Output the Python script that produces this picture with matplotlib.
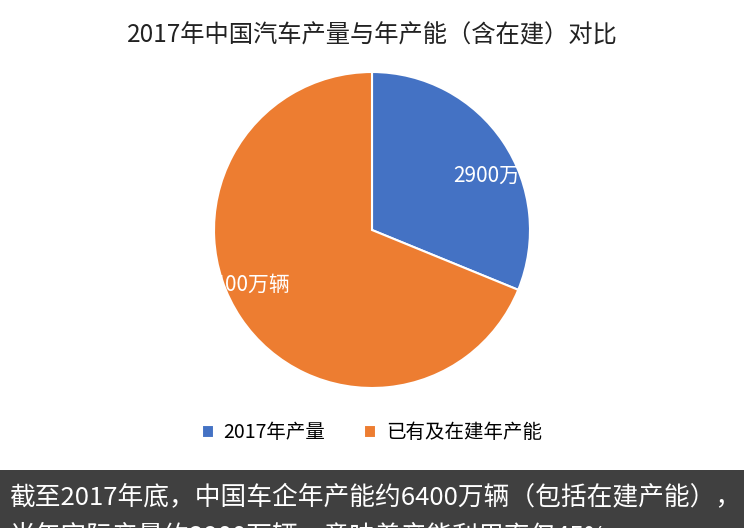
import matplotlib
matplotlib.use("Agg")
import matplotlib.pyplot as plt
from matplotlib.patches import Rectangle

plt.rcParams['font.family'] = ['Noto Sans CJK SC', 'DejaVu Sans']

labels = ["2017年产量", "已有及在建年产能"]
values = [2900, 6400]
value_labels = ["2900万辆", "6400万辆"]
colors = ["#4472C4", "#ED7D31"]

W, H = 744, 528
fig = plt.figure(figsize=(W/100, H/100), dpi=100)
fig.patch.set_facecolor("white")

cx, cy, r = 372, 230, 158
ax = fig.add_axes([(cx-r)/W, 1-(cy+r)/H, 2*r/W, 2*r/H])
wedges, texts = ax.pie(values, colors=colors, startangle=90, counterclock=False,
                       labels=value_labels, labeldistance=0.62,
                       wedgeprops=dict(edgecolor="white", linewidth=1.5),
                       textprops=dict(color="white", fontsize=15))
for t in texts:
    t.set_clip_on(False)
ax.set_xlim(-1, 1)
ax.set_ylim(-1, 1)
ax.set_aspect("equal")
ax.axis("off")

fig.text(0.5, 1-35/H, "2017年中国汽车产量与年产能（含在建）对比",
         ha="center", va="center", fontsize=17.5, color="#222222")

leg = fig.legend(wedges, labels, loc="center", bbox_to_anchor=(0.5, 1-433/H),
                 ncol=2, frameon=False, fontsize=14, handlelength=0.6,
                 handleheight=0.6, columnspacing=2.0, handletextpad=0.5)

fig.patches.append(Rectangle((0, 0), 1, 58/H, transform=fig.transFigure,
                             facecolor="#404040", edgecolor="none", zorder=0))
fig.text(0.012, 1-497/H, "截至2017年底，中国车企年产能约6400万辆（包括在建产能），",
         ha="left", va="center", fontsize=18.5, color="white")
fig.text(0.012, 1-536/H, "当年实际产量约2900万辆，意味着产能利用率仅45%",
         ha="left", va="center", fontsize=18.5, color="white")

fig.savefig("out.png", dpi=100)
